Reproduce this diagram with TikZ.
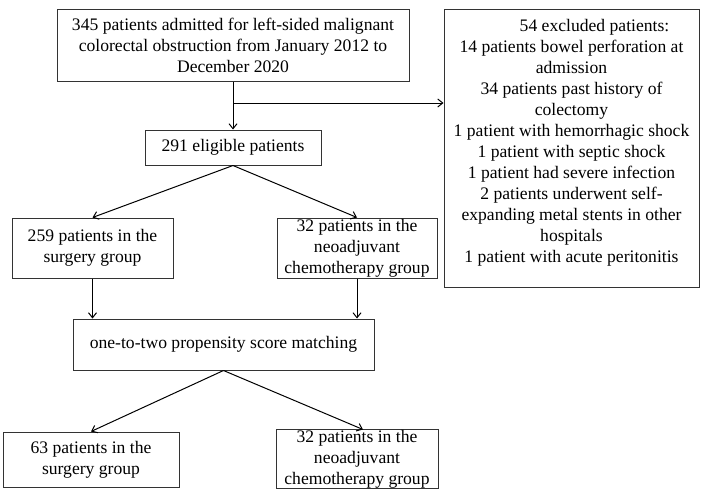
\documentclass[tikz,border=0pt]{standalone}
\usepackage{fontspec}
\setmainfont{Liberation Serif}
\usetikzlibrary{arrows.meta}
\begin{document}
\begin{tikzpicture}[x=1pt,y=-1pt,
  txt/.style={align=center,inner sep=0pt,font=\fontsize{17.6}{21}\selectfont},
  box/.style={txt,draw=black!80,line width=1pt},
  conn/.style={line width=1pt,-{Straight Barb[length=5pt,width=8pt]}}]
\useasboundingbox (0,0) rectangle (702,490);
\node[box,minimum width=352,minimum height=72] (top) at (233,45)
  {345 patients admitted for left-sided malignant\\colorectal obstruction from January 2012 to\\December 2020};
\node[box,minimum width=255,minimum height=278] (excl) at (571.5,148) {};
\node[txt] (exclt) at ([yshift=5pt]excl.center)
  {\hspace*{46pt}54 excluded patients:\\14 patients bowel perforation at\\admission\\34 patients past history of\\colectomy\\1 patient with hemorrhagic shock\\1 patient with septic shock\\1 patient had severe infection\\2 patients underwent self-\\expanding metal stents in other\\hospitals\\1 patient with acute peritonitis};
\node[box,minimum width=176,minimum height=35] (elig) at (233,147.5) {291 eligible patients};
\node[box,minimum width=161,minimum height=60] (surg) at (92.5,248) {259 patients in the\\surgery group};
\node[box,minimum width=160,minimum height=60] (neo) at (357,248) {32 patients in the\\neoadjuvant\\chemotherapy group};
\node[box,minimum width=301,minimum height=51] (psm) at (223.5,344.5) {one-to-two propensity score matching};
\node[box,minimum width=176,minimum height=55] (surg2) at (91,459.5) {63 patients in the\\surgery group};
\node[box,minimum width=162,minimum height=58] (neo2) at (357,459) {32 patients in the\\neoadjuvant\\chemotherapy group};
\coordinate (br) at (233,103);
\draw[conn] (top.south) -- (elig.north);
\draw[conn] (br) -- (br -| excl.west);
\draw[conn] (elig.south) -- (surg.north);
\draw[conn] (elig.south) -- (neo.north);
\draw[conn] (surg.south) -- (surg.south |- psm.north);
\draw[conn] (neo.south) -- (neo.south |- psm.north);
\draw[conn] (psm.south) -- (surg2.north);
\draw[conn] (psm.south) -- ([xshift=6pt]neo2.north);
\end{tikzpicture}
\end{document}
